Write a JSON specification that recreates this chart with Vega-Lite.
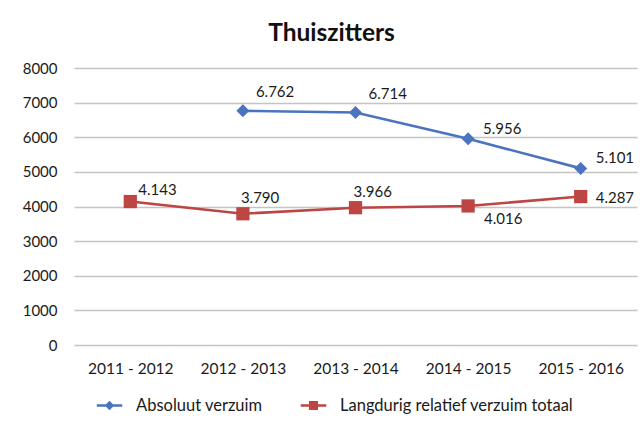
{
  "$schema": "https://vega.github.io/schema/vega-lite/v6.json",
  "width": 563,
  "height": 277,
  "autosize": "none",
  "padding": {"left": 74, "top": 68, "right": 7, "bottom": 82},
  "background": "white",
  "title": {"text": "Thuiszitters", "fontSize": 24.5, "font": "Lato", "fontWeight": "bold", "color": "#111", "offset": 15, "dx": -24},
  "config": {
    "locale": {"number": {"decimal": ",", "thousands": ".", "grouping": [3], "currency": ["€", ""]}},
    "view": {"stroke": null},
    "font": "Lato",
    "axis": {"labelFont": "Lato", "labelColor": "#1a1a1a", "domain": false, "ticks": false, "title": null}
  },
  "data": {"values": [
    {"period": "2012 - 2013", "series": "Absoluut verzuim", "value": 6762},
    {"period": "2013 - 2014", "series": "Absoluut verzuim", "value": 6714},
    {"period": "2014 - 2015", "series": "Absoluut verzuim", "value": 5956},
    {"period": "2015 - 2016", "series": "Absoluut verzuim", "value": 5101},
    {"period": "2011 - 2012", "series": "Langdurig relatief verzuim totaal", "value": 4143},
    {"period": "2012 - 2013", "series": "Langdurig relatief verzuim totaal", "value": 3790},
    {"period": "2013 - 2014", "series": "Langdurig relatief verzuim totaal", "value": 3966},
    {"period": "2014 - 2015", "series": "Langdurig relatief verzuim totaal", "value": 4016},
    {"period": "2015 - 2016", "series": "Langdurig relatief verzuim totaal", "value": 4287}
  ]},
  "encoding": {
    "x": {"field": "period", "type": "ordinal", "sort": ["2011 - 2012", "2012 - 2013", "2013 - 2014", "2014 - 2015", "2015 - 2016"],
      "scale": {"type": "point", "padding": 0.5},
      "axis": {"labelAngle": 0, "labelPadding": 16, "labelFontSize": 15.5, "grid": false}},
    "y": {"field": "value", "type": "quantitative", "scale": {"domain": [0, 8000]},
      "axis": {"values": [0, 1000, 2000, 3000, 4000, 5000, 6000, 7000, 8000], "format": "d", "labelPadding": 17, "labelFontSize": 15, "gridColor": "#c4c4c4", "gridWidth": 1.6}},
    "color": {"field": "series", "type": "nominal",
      "scale": {"domain": ["Absoluut verzuim", "Langdurig relatief verzuim totaal"], "range": ["#4a74c0", "#bd4543"]},
      "legend": {
        "orient": "none", "legendX": 26, "legendY": 328, "direction": "horizontal", "title": null,
        "labelFont": "Lato", "labelFontSize": 16.5, "labelColor": "#1a1a1a", "labelLimit": 400,
        "symbolType": "M-1.5,0H1.5", "symbolSize": 270, "symbolStrokeWidth": 2.5, "labelOffset": 17, "columnPadding": 32,
        "encode": {"symbols": {"update": {
          "shape": {"signal": "datum.value === 'Absoluut verzuim' ? 'M-1.55,0H1.55M-0.36,0L0,-0.36L0.36,0L0,0.36Z' : 'M-1.55,0H1.55M-0.4,-0.4H0.4V0.4H-0.4Z'"},
          "fill": {"signal": "datum.value === 'Absoluut verzuim' ? '#4a74c0' : '#bd4543'"},
          "stroke": {"signal": "datum.value === 'Absoluut verzuim' ? '#4a74c0' : '#bd4543'"},
          "strokeWidth": {"value": 2.5},
          "fillOpacity": {"value": 1}
        }}}
      }}
  },
  "layer": [
    {"mark": {"type": "line", "strokeWidth": 2.6}},
    {"mark": {"type": "point", "filled": true, "opacity": 1},
      "encoding": {
        "shape": {"field": "series", "type": "nominal", "scale": {"range": ["diamond", "square"]}, "legend": null},
        "size": {"field": "series", "type": "nominal", "scale": {"range": [169, 175]}, "legend": null}
      }},
    {"transform": [{"filter": "datum.series === 'Absoluut verzuim' && (datum.period === '2012 - 2013' || datum.period === '2013 - 2014')"}],
      "mark": {"type": "text", "align": "left", "baseline": "middle", "dx": 13, "dy": -19, "fontSize": 15},
      "encoding": {"text": {"field": "value", "type": "quantitative", "format": ",d"}, "color": {"value": "#1a1a1a"}}},
    {"transform": [{"filter": "datum.series === 'Absoluut verzuim' && (datum.period === '2014 - 2015' || datum.period === '2015 - 2016')"}],
      "mark": {"type": "text", "align": "left", "baseline": "middle", "dx": 15, "dy": -10, "fontSize": 15},
      "encoding": {"text": {"field": "value", "type": "quantitative", "format": ",d"}, "color": {"value": "#1a1a1a"}}},
    {"transform": [{"filter": "datum.series !== 'Absoluut verzuim' && datum.period === '2011 - 2012'"}],
      "mark": {"type": "text", "align": "left", "baseline": "middle", "dx": 8, "dy": -12, "fontSize": 15},
      "encoding": {"text": {"field": "value", "type": "quantitative", "format": ",d"}, "color": {"value": "#1a1a1a"}}},
    {"transform": [{"filter": "datum.series !== 'Absoluut verzuim' && (datum.period === '2012 - 2013' || datum.period === '2013 - 2014')"}],
      "mark": {"type": "text", "align": "left", "baseline": "middle", "dx": -2, "dy": -16, "fontSize": 15},
      "encoding": {"text": {"field": "value", "type": "quantitative", "format": ",d"}, "color": {"value": "#1a1a1a"}}},
    {"transform": [{"filter": "datum.series !== 'Absoluut verzuim' && datum.period === '2014 - 2015'"}],
      "mark": {"type": "text", "align": "left", "baseline": "middle", "dx": 16, "dy": 13, "fontSize": 15},
      "encoding": {"text": {"field": "value", "type": "quantitative", "format": ",d"}, "color": {"value": "#1a1a1a"}}},
    {"transform": [{"filter": "datum.series !== 'Absoluut verzuim' && datum.period === '2015 - 2016'"}],
      "mark": {"type": "text", "align": "left", "baseline": "middle", "dx": 15, "dy": 1, "fontSize": 15},
      "encoding": {"text": {"field": "value", "type": "quantitative", "format": ",d"}, "color": {"value": "#1a1a1a"}}}
  ]
}
